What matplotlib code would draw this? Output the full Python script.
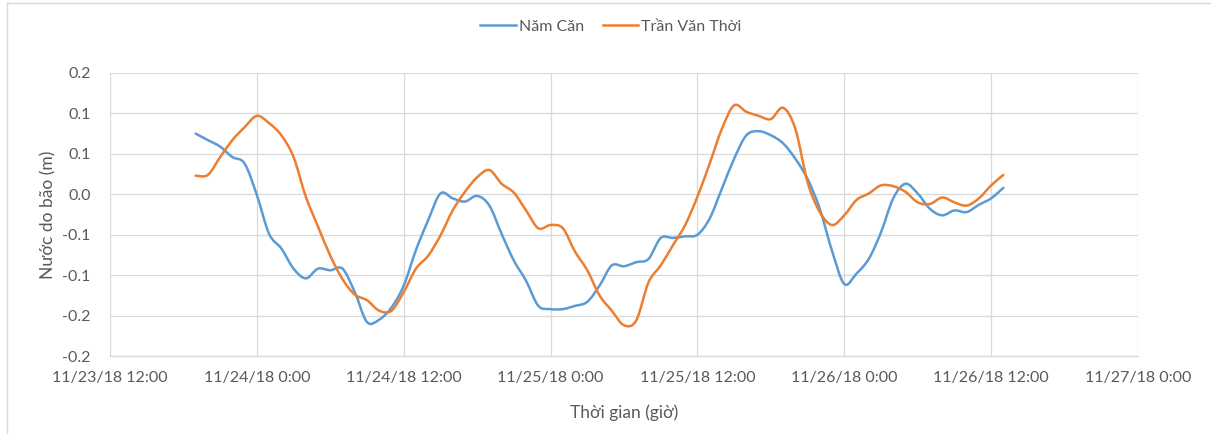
import numpy as np
import pandas as pd
import matplotlib
matplotlib.use("Agg")
import matplotlib.pyplot as plt
import matplotlib.dates as mdates
from matplotlib.lines import Line2D
from matplotlib.path import Path
from matplotlib.patches import PathPatch

plt.rcParams['font.family'] = ['Lato', 'DejaVu Sans']

# hourly readings, 11/23/18 19:00 .. 11/26/18 13:00
START = "2018-11-23 19:00"

nam_can = [0.075, 0.067, 0.059, 0.046, 0.038,
           -0.001, -0.049, -0.067, -0.092, -0.104, -0.092, -0.094, -0.092,
           -0.121, -0.158, -0.155, -0.140, -0.113, -0.069, -0.032, 0.001,
           -0.005, -0.009, -0.002, -0.014, -0.049, -0.082, -0.107, -0.138,
           -0.142, -0.142, -0.138, -0.133, -0.113, -0.088, -0.089, -0.084,
           -0.080, -0.054, -0.054, -0.052, -0.050, -0.030, 0.007, 0.044,
           0.073, 0.078, 0.073, 0.063, 0.044, 0.019, -0.018, -0.070,
           -0.111, -0.098, -0.080, -0.047, -0.005, 0.013, 0.001, -0.018,
           -0.026, -0.020, -0.022, -0.013, -0.005, 0.008]

tran_van_thoi = [0.023, 0.024, 0.046, 0.067, 0.083,
                 0.097, 0.088, 0.073, 0.046, -0.003, -0.040, -0.076, -0.105,
                 -0.124, -0.131, -0.144, -0.144, -0.121, -0.092, -0.076, -0.051,
                 -0.020, 0.003, 0.021, 0.030, 0.013, 0.002, -0.020, -0.042,
                 -0.038, -0.042, -0.071, -0.094, -0.125, -0.144, -0.162, -0.156,
                 -0.109, -0.088, -0.063, -0.038, -0.003, 0.038, 0.081, 0.110,
                 0.102, 0.097, 0.093, 0.107, 0.081, 0.015, -0.022, -0.038,
                 -0.026, -0.007, 0.001, 0.011, 0.010, 0.003, -0.010, -0.012,
                 -0.004, -0.010, -0.014, -0.005, 0.011, 0.024]

x_ticks = ["2018-11-23 12:00", "2018-11-24 00:00", "2018-11-24 12:00",
           "2018-11-25 00:00", "2018-11-25 12:00", "2018-11-26 00:00",
           "2018-11-26 12:00", "2018-11-27 00:00"]
x_tick_labels = ["11/23/18 12:00", "11/24/18 0:00", "11/24/18 12:00",
                 "11/25/18 0:00", "11/25/18 12:00", "11/26/18 0:00",
                 "11/26/18 12:00", "11/27/18 0:00"]
y_ticks = [-0.2, -0.15, -0.1, -0.05, 0.0, 0.05, 0.1, 0.15]
y_tick_labels = ["-0.2", "-0.2", "-0.1", "-0.1", "0.0", "0.1", "0.1", "0.2"]

BLUE = "#5B9BD5"
ORANGE = "#ED7D31"
GRID = "#D9D9D9"
TEXT = "#595959"


def smooth_path(x, y):
    # Excel-style smoothed line: cubic bezier through every data point
    pts = np.column_stack([x, y])
    n = len(pts)
    verts = [pts[0]]
    codes = [Path.MOVETO]
    for i in range(n - 1):
        p0 = pts[max(i - 1, 0)]
        p1 = pts[i]
        p2 = pts[i + 1]
        p3 = pts[min(i + 2, n - 1)]
        verts += [p1 + (p2 - p0) / 6, p2 - (p3 - p1) / 6, p2]
        codes += [Path.CURVE4] * 3
    return Path(verts, codes)


times = pd.date_range(START, periods=len(nam_can), freq="h")
tick_times = pd.to_datetime(x_ticks)
xnum = mdates.date2num(times)

fig = plt.figure(figsize=(12.11, 4.34), dpi=100)
ax = fig.add_axes([110 / 1211, 1 - 356 / 434, 1028 / 1211, 283 / 434])

for series, color in [(nam_can, BLUE), (tran_van_thoi, ORANGE)]:
    ax.add_patch(PathPatch(smooth_path(xnum, np.array(series)), facecolor="none",
                           edgecolor=color, lw=1.8, joinstyle="round",
                           capstyle="round"))

ax.xaxis_date()
ax.set_xlim(tick_times[0], tick_times[-1])
ax.set_ylim(-0.2, 0.15)
ax.set_xticks(tick_times)
ax.set_xticklabels(x_tick_labels)
ax.set_yticks(y_ticks)
ax.set_yticklabels(y_tick_labels)
ax.tick_params(length=0, labelsize=11.5, labelcolor=TEXT)
ax.tick_params(axis="x", pad=11)
ax.tick_params(axis="y", pad=14)

ax.grid(True, color=GRID, lw=0.9)
ax.set_axisbelow(True)
for side in ["left", "right", "top"]:
    ax.spines[side].set_visible(False)
ax.spines["bottom"].set_color(GRID)
ax.spines["bottom"].set_linewidth(0.9)

ax.set_xlabel("Thời gian (giờ)", fontsize=12.5, color=TEXT, labelpad=14)
ax.set_ylabel("Nước do bão (m)", fontsize=12.5, color=TEXT, labelpad=4)

handles = [Line2D([], [], color=BLUE, lw=1.8), Line2D([], [], color=ORANGE, lw=1.8)]
fig.legend(handles, ["Năm Căn", "Trần Văn Thời"], loc="center",
           bbox_to_anchor=(611 / 1211, 1 - 27 / 434), ncol=2,
           frameon=False, fontsize=11.5, handlelength=2.2, handletextpad=0.2,
           columnspacing=1.2, labelcolor=TEXT)

# chart border (cropped at right and bottom)
fig.add_artist(Line2D([7 / 1211, 7 / 1211], [0, 1 - 3 / 434], color=GRID, lw=1))
fig.add_artist(Line2D([7 / 1211, 1], [1 - 3 / 434, 1 - 3 / 434], color=GRID, lw=1))

fig.savefig("out.png", dpi=100)
